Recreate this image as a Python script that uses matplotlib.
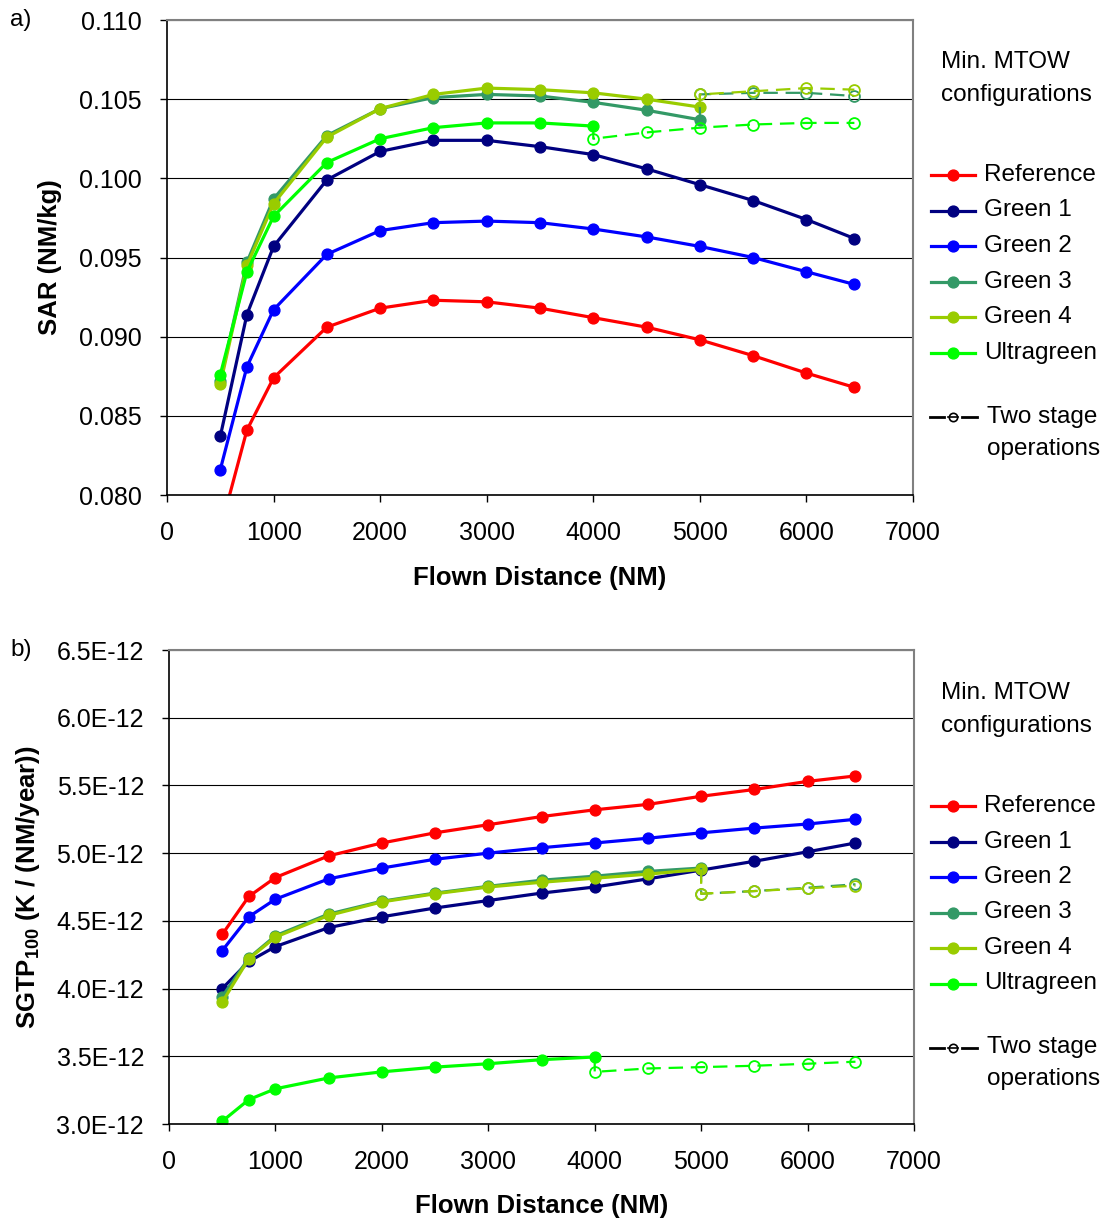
import matplotlib
matplotlib.use("Agg")
import matplotlib.pyplot as plt
from matplotlib.lines import Line2D
from matplotlib.ticker import FixedLocator, FuncFormatter

plt.rcParams['font.family'] = ['Liberation Sans', 'DejaVu Sans']
plt.rcParams['mathtext.fontset'] = 'custom'
plt.rcParams['mathtext.rm'] = 'Liberation Sans'
plt.rcParams['mathtext.bf'] = 'Liberation Sans:bold'

# ---------------------------------------------------------------- data
distance = [500, 750, 1000, 1500, 2000, 2500, 3000, 3500, 4000, 4500, 5000, 5500, 6000, 6450]
series_names = ["Reference", "Green 1", "Green 2", "Green 3", "Green 4", "Ultragreen"]
series_colors = ["#FF0000", "#000080", "#0000FF", "#339966", "#99CC00", "#00FF00"]

# Specific air range, SAR (NM/kg)
sar_reference = [0.0778, 0.0841, 0.0874, 0.0906, 0.0918, 0.0923, 0.0922, 0.0918, 0.0912, 0.0906, 0.0898, 0.0888, 0.0877, 0.0868]
sar_green1 = [0.0837, 0.0914, 0.0957, 0.0999, 0.1017, 0.1024, 0.1024, 0.1020, 0.1015, 0.1006, 0.0996, 0.0986, 0.0974, 0.0962]
sar_green2 = [0.0816, 0.0881, 0.0917, 0.0952, 0.0967, 0.0972, 0.0973, 0.0972, 0.0968, 0.0963, 0.0957, 0.0950, 0.0941, 0.0933]
sar_green3 = [0.0872, 0.0947, 0.0987, 0.1027, 0.1044, 0.1051, 0.1053, 0.1052, 0.1048, 0.1043, 0.1037]
sar_green4 = [0.0870, 0.0945, 0.0984, 0.1026, 0.1044, 0.1053, 0.1057, 0.1056, 0.1054, 0.1050, 0.1045]
sar_ultragreen = [0.0876, 0.0941, 0.0976, 0.1010, 0.1025, 0.1032, 0.1035, 0.1035, 0.1033]

# Two stage operations (SAR)
ts_distance_green = [5000, 5500, 6000, 6450]
ts_distance_ultragreen = [4000, 4500, 5000, 5500, 6000, 6450]
sar_ts_green3 = [0.1053, 0.1054, 0.1054, 0.1052]
sar_ts_green4 = [0.1053, 0.1055, 0.1057, 0.1056]
sar_ts_ultragreen = [0.1025, 0.1029, 0.1032, 0.1034, 0.1035, 0.1035]

# Specific global temperature potential, SGTP100 (K / (NM/year))
sgtp_reference = [4.40e-12, 4.68e-12, 4.82e-12, 4.98e-12, 5.075e-12, 5.15e-12, 5.21e-12, 5.27e-12, 5.32e-12, 5.36e-12, 5.42e-12, 5.47e-12, 5.53e-12, 5.57e-12]
sgtp_green1 = [4.00e-12, 4.20e-12, 4.31e-12, 4.45e-12, 4.53e-12, 4.595e-12, 4.65e-12, 4.705e-12, 4.75e-12, 4.81e-12, 4.875e-12, 4.94e-12, 5.01e-12, 5.075e-12]
sgtp_green2 = [4.28e-12, 4.53e-12, 4.66e-12, 4.81e-12, 4.89e-12, 4.955e-12, 5.00e-12, 5.04e-12, 5.075e-12, 5.11e-12, 5.15e-12, 5.185e-12, 5.215e-12, 5.25e-12]
sgtp_green3 = [3.94e-12, 4.225e-12, 4.39e-12, 4.55e-12, 4.645e-12, 4.705e-12, 4.755e-12, 4.80e-12, 4.83e-12, 4.865e-12, 4.89e-12]
sgtp_green4 = [3.90e-12, 4.22e-12, 4.38e-12, 4.54e-12, 4.64e-12, 4.70e-12, 4.75e-12, 4.785e-12, 4.815e-12, 4.845e-12, 4.88e-12]
sgtp_ultragreen = [3.02e-12, 3.18e-12, 3.26e-12, 3.34e-12, 3.385e-12, 3.42e-12, 3.445e-12, 3.475e-12, 3.495e-12]

# Two stage operations (SGTP100)
sgtp_ts_green3 = [4.70e-12, 4.72e-12, 4.745e-12, 4.77e-12]
sgtp_ts_green4 = [4.70e-12, 4.72e-12, 4.74e-12, 4.76e-12]
sgtp_ts_ultragreen = [3.385e-12, 3.41e-12, 3.42e-12, 3.43e-12, 3.445e-12, 3.46e-12]

x_ticks = [0, 1000, 2000, 3000, 4000, 5000, 6000, 7000]
sar_ticks = [0.080, 0.085, 0.090, 0.095, 0.100, 0.105, 0.110]
sgtp_ticks = [3.0e-12, 3.5e-12, 4.0e-12, 4.5e-12, 5.0e-12, 5.5e-12, 6.0e-12, 6.5e-12]

# ---------------------------------------------------------------- figure
W, H = 1111, 1220
fig = plt.figure(figsize=(W / 100, H / 100), dpi=100)


def fx(px):
    return px / W


def fy(py):
    return 1 - py / H


TICK_FS = 18
LABEL_FS = 18.5
LEG_FS = 17.5
LW = 2.3
MS = 7.8
DASH = (0, (6.5, 3.5))


def style_axes(ax):
    ax.set_xlim(x_ticks[0], x_ticks[-1])
    ax.xaxis.set_major_locator(FixedLocator(x_ticks))
    ax.grid(axis='y', color='black', linewidth=0.8)
    ax.grid(axis='x', visible=False)
    ax.set_axisbelow(True)
    for side in ('left', 'bottom'):
        ax.spines[side].set_color('black')
        ax.spines[side].set_linewidth(1.2)
    for side in ('top', 'right'):
        ax.spines[side].set_color('#808080')
        ax.spines[side].set_linewidth(1.5)
    ax.tick_params(axis='x', direction='out', length=5, width=1, pad=14, labelsize=TICK_FS)
    ax.tick_params(axis='y', direction='out', length=5, width=1, pad=13, labelsize=TICK_FS)


def draw_series(ax, values):
    for name, color, vals in zip(series_names, series_colors, values):
        ax.plot(distance[:len(vals)], vals, color=color, linewidth=LW,
                marker='o', markersize=MS, markerfacecolor=color,
                markeredgecolor=color, solid_capstyle='round', clip_on=True)


def draw_two_stage(ax, color, solid_vals, ts_x, ts_vals):
    # dashed continuation, joined vertically to the last solid point
    xs = [ts_x[0]] + list(ts_x)
    ys = [solid_vals[-1]] + list(ts_vals)
    ax.plot(xs, ys, color=color, linewidth=1.6, linestyle=DASH,
            marker='o', markersize=MS, markerfacecolor='none',
            markeredgecolor=color, markeredgewidth=1.3,
            markevery=list(range(1, len(xs))))


def draw_legend(top_px):
    fig.text(fx(941), fy(top_px), "Min. MTOW", fontsize=LEG_FS, va='center', ha='left')
    fig.text(fx(941), fy(top_px + 33), "configurations", fontsize=LEG_FS, va='center', ha='left')
    y0 = top_px + 113
    step = 35.5
    for i, (name, color) in enumerate(zip(series_names, series_colors)):
        yy = fy(y0 + i * step)
        fig.add_artist(Line2D([fx(931), fx(975)], [yy, yy], color=color, linewidth=LW))
        fig.add_artist(Line2D([fx(953)], [yy], color=color, marker='o', markersize=MS,
                              markerfacecolor=color, markeredgecolor=color))
        fig.text(fx(984), yy, name, fontsize=LEG_FS, va='center', ha='left')
    yy = fy(y0 + 5 * step + 64)
    for a, b in ((930, 944), (962, 977)):
        fig.add_artist(Line2D([fx(a), fx(b)], [yy, yy], color='black', linewidth=2.0))
    fig.add_artist(Line2D([fx(948), fx(958)], [yy, yy], color='black', linewidth=1.2,
                          marker='o', markersize=6, markevery=[0], markerfacecolor='none',
                          markeredgecolor='none'))
    fig.add_artist(Line2D([fx(953)], [yy], color='black', marker='o', markersize=6,
                          markerfacecolor='none', markeredgecolor='black', markeredgewidth=1.2))
    fig.text(fx(987), yy, "Two stage", fontsize=LEG_FS, va='center', ha='left')
    fig.text(fx(987), yy - 32 / H, "operations", fontsize=LEG_FS, va='center', ha='left')


# ---- a) SAR
ax1 = fig.add_axes([fx(167), fy(495), fx(913) - fx(167), fy(20) - fy(495)])
style_axes(ax1)
ax1.set_ylim(sar_ticks[0], sar_ticks[-1])
ax1.yaxis.set_major_locator(FixedLocator(sar_ticks))
ax1.yaxis.set_major_formatter(FuncFormatter(lambda v, p: f"{v:.3f}"))
draw_series(ax1, [sar_reference, sar_green1, sar_green2, sar_green3, sar_green4, sar_ultragreen])
draw_two_stage(ax1, series_colors[3], sar_green3, ts_distance_green, sar_ts_green3)
draw_two_stage(ax1, series_colors[4], sar_green4, ts_distance_green, sar_ts_green4)
draw_two_stage(ax1, series_colors[5], sar_ultragreen, ts_distance_ultragreen, sar_ts_ultragreen)
ax1.set_xlabel("Flown Distance (NM)", fontsize=LABEL_FS, fontweight='bold')
ax1.xaxis.label.set_va('center')
ax1.xaxis.set_label_coords(0.5, -(578 - 495) / 475)
ax1.set_ylabel("SAR (NM/kg)", fontsize=LABEL_FS, fontweight='bold')
ax1.yaxis.label.set_va('center')
ax1.yaxis.set_label_coords((50 - 167) / 746, 0.5)
fig.text(fx(10), fy(20), "a)", fontsize=LEG_FS, va='center', ha='left')
draw_legend(62)

# ---- b) SGTP100
ax2 = fig.add_axes([fx(169), fy(1124), fx(914) - fx(169), fy(650) - fy(1124)])
style_axes(ax2)
ax2.set_ylim(sgtp_ticks[0], sgtp_ticks[-1])
ax2.yaxis.set_major_locator(FixedLocator(sgtp_ticks))
ax2.yaxis.set_major_formatter(FuncFormatter(lambda v, p: f"{v * 1e12:.1f}E-12"))
draw_series(ax2, [sgtp_reference, sgtp_green1, sgtp_green2, sgtp_green3, sgtp_green4, sgtp_ultragreen])
draw_two_stage(ax2, series_colors[3], sgtp_green3, ts_distance_green, sgtp_ts_green3)
draw_two_stage(ax2, series_colors[4], sgtp_green4, ts_distance_green, sgtp_ts_green4)
draw_two_stage(ax2, series_colors[5], sgtp_ultragreen, ts_distance_ultragreen, sgtp_ts_ultragreen)
ax2.set_xlabel("Flown Distance (NM)", fontsize=LABEL_FS, fontweight='bold')
ax2.xaxis.label.set_va('center')
ax2.xaxis.set_label_coords(0.5, -(1206 - 1124) / 474)
ax2.set_ylabel(r"SGTP$_{\mathbf{100}}$ (K / (NM/year))", fontsize=LABEL_FS, fontweight='bold')
ax2.yaxis.label.set_va('center')
ax2.yaxis.set_label_coords((28 - 169) / 745, 0.5)
fig.text(fx(10), fy(650), "b)", fontsize=LEG_FS, va='center', ha='left')
draw_legend(693)

fig.savefig("out.png", dpi=100)
